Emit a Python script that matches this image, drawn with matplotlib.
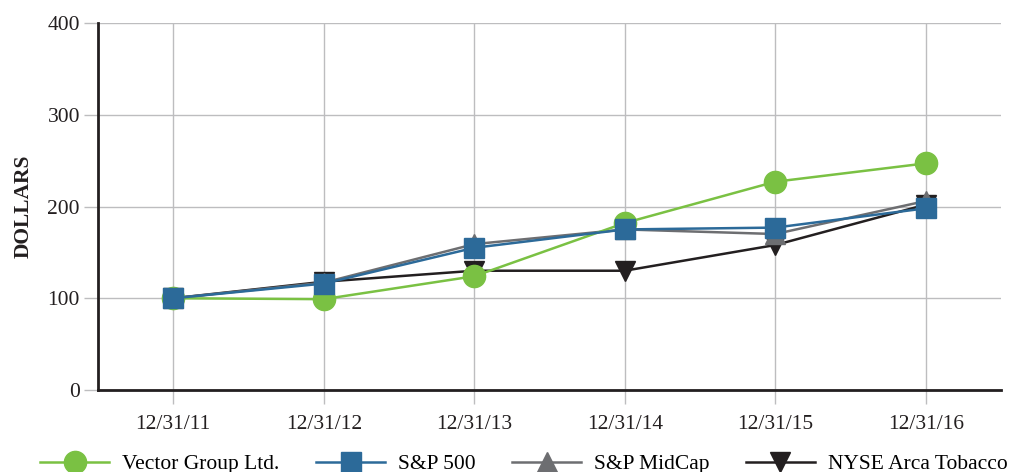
import matplotlib.pyplot as plt
import numpy as np

plt.rcParams["font.family"] = ["Liberation Serif", "DejaVu Serif"]

dates = ["12/31/11", "12/31/12", "12/31/13", "12/31/14", "12/31/15", "12/31/16"]
vector = [100, 99, 124, 182, 227, 247]
sp500 = [100, 116, 155, 175, 177, 198]
midcap = [100, 117, 159, 175, 170, 206]
tobacco = [100, 118, 130, 130, 158, 202]

x = np.arange(len(dates)) + 0.5

fig = plt.figure(figsize=(10.11, 4.72), dpi=100)
ax = fig.add_axes([98 / 1011, 1 - 390 / 472, 903 / 1011, 367 / 472])

ax.plot(x, tobacco, color="#231F20", lw=1.8, marker="v", ms=15, label="NYSE Arca Tobacco", zorder=3)
ax.plot(x, midcap, color="#6D6E71", lw=1.8, marker="^", ms=14, label="S&P MidCap", zorder=4)
ax.plot(x, vector, color="#7AC143", lw=1.8, marker="o", ms=16, label="Vector Group Ltd.", zorder=5)
ax.plot(x, sp500, color="#2C6A99", lw=1.8, marker="s", ms=15, label="S&P 500", zorder=6)

ax.set_xlim(0, 6)
ax.set_ylim(0, 400)
ax.set_xticks(x)
ax.set_xticklabels(dates)
ax.set_yticks([0, 100, 200, 300, 400])
ax.grid(True, color="#BDBDBF", lw=1)
ax.set_axisbelow(True)
ax.tick_params(axis="both", length=10, color="#BDBDBF", width=1, labelsize=15.5,
               labelcolor="#231F20")
ax.tick_params(axis="x", pad=8)
ax.tick_params(axis="y", pad=3)
for s in ["top", "right"]:
    ax.spines[s].set_visible(False)
for s in ["left", "bottom"]:
    ax.spines[s].set_color("#231F20")
    ax.spines[s].set_linewidth(2)
ax.set_ylabel("DOLLARS", fontsize=15.5, fontweight="bold", color="#231F20", labelpad=10)

h, l = ax.get_legend_handles_labels()
order = [2, 3, 1, 0]
fig.legend([h[i] for i in order], [l[i] for i in order], loc="center",
           bbox_to_anchor=(524 / 1011, 1 - 464 / 472), ncol=4, frameon=False,
           fontsize=15.5, handlelength=3.2, columnspacing=1.7, handletextpad=0.6,
           borderaxespad=0, borderpad=0)

fig.savefig("out.png", dpi=100)
